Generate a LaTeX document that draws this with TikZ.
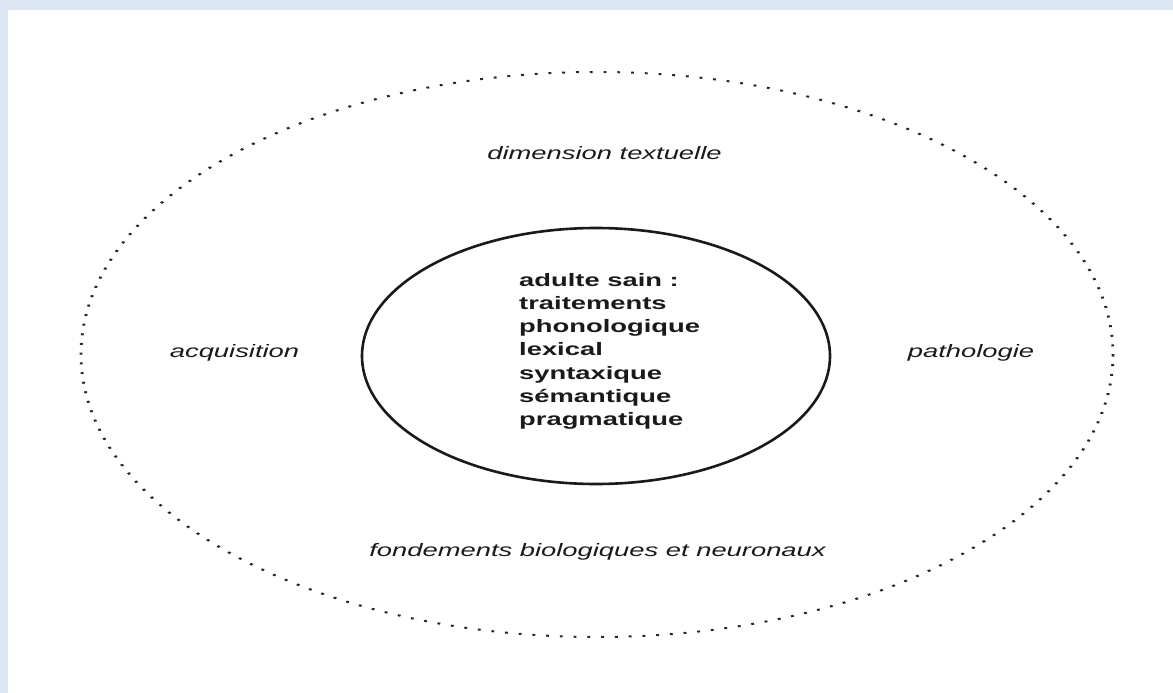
\documentclass[tikz,border=0pt]{standalone}
\usepackage{fontspec}
\newfontfamily\wf[FakeStretch=1.52]{Liberation Sans}
\definecolor{frameblue}{HTML}{DDE8F4}
\definecolor{ink}{HTML}{1A1A1A}
\begin{document}
\begin{tikzpicture}[x=1pt,y=-1pt,
  lab/.style={font=\wf\itshape\fontsize{18}{22}\selectfont, text=ink, inner sep=0pt, anchor=base},
  corelab/.style={font=\wf\bfseries\fontsize{18}{23.2}\selectfont, text=ink, inner sep=0pt, align=left, anchor=north west},
  dotline/.style={draw=black!85, dash pattern=on 2pt off 7.7pt, line width=2pt},
  solidline/.style={draw=ink, line width=2.6pt}]
\useasboundingbox (0,0) rectangle (1173,693);
\fill[white] (0,0) rectangle (1173,693);
\fill[frameblue] (0,0) rectangle (1173,10);
\fill[frameblue] (0,0) rectangle (8,693);
\begin{scope}[transform canvas={xscale=1.42}]
  \draw[dotline] (420.42,354.5) ellipse [x radius=363.38, y radius=282.5];
\end{scope}
\draw[solidline] (596,356) ellipse [x radius=234, y radius=128];
\node[lab] (top) at (604.5,159) {dimension textuelle};
\node[lab] (left) at (234.5,357) {acquisition};
\node[lab] (right) at (971,357) {pathologie};
\node[lab] (bottom) at (597.5,556) {fondements biologiques et neuronaux};
\node[corelab] (core) at (519,273) {adulte sain :\\traitements\\phonologique\\lexical\\syntaxique\\sémantique\\pragmatique};
\end{tikzpicture}
\end{document}
